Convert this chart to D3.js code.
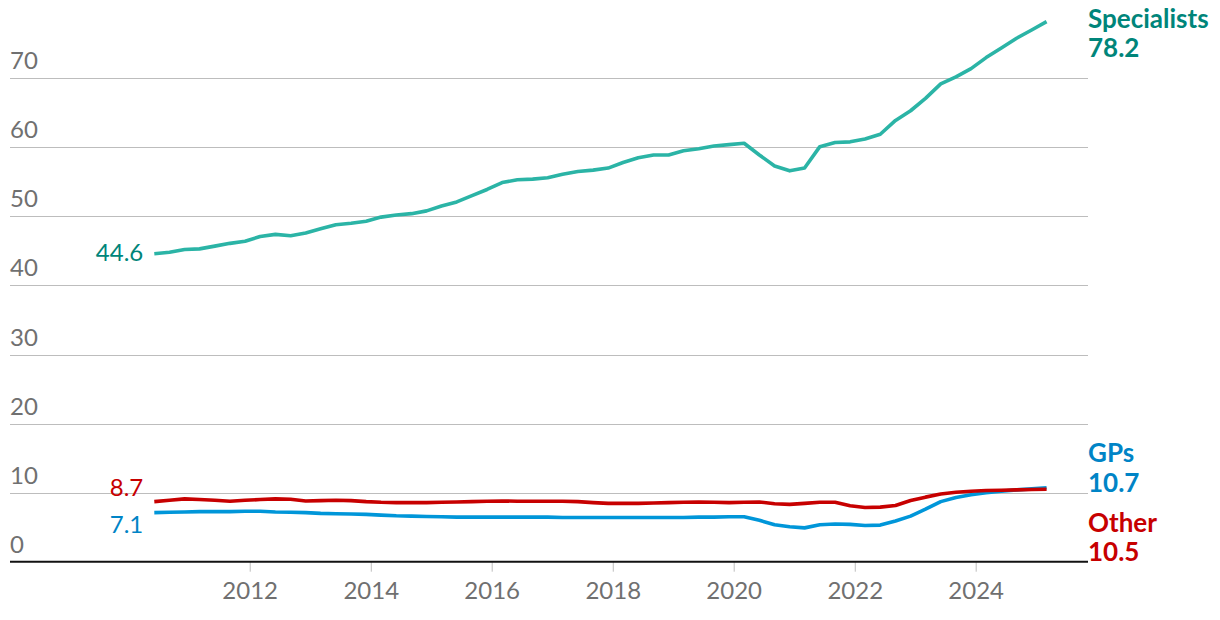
<!DOCTYPE html>
<html>
<head>
<meta charset="utf-8">
<script src="https://cdn.jsdelivr.net/npm/d3@7"></script>
<style>
  body { margin: 0; background: #fff; }
  text { font-family: Lato, "Noto Sans", sans-serif; }
</style>
</head>
<body>
<div id="app"></div>
<script>
// quarterly points, Jun 2010 .. Mar 2025
const quarters = [
  "2010-06", "2010-09", "2010-12", "2011-03", "2011-06", "2011-09", "2011-12", "2012-03",
  "2012-06", "2012-09", "2012-12", "2013-03", "2013-06", "2013-09", "2013-12", "2014-03",
  "2014-06", "2014-09", "2014-12", "2015-03", "2015-06", "2015-09", "2015-12", "2016-03",
  "2016-06", "2016-09", "2016-12", "2017-03", "2017-06", "2017-09", "2017-12", "2018-03",
  "2018-06", "2018-09", "2018-12", "2019-03", "2019-06", "2019-09", "2019-12", "2020-03",
  "2020-06", "2020-09", "2020-12", "2021-03", "2021-06", "2021-09", "2021-12", "2022-03",
  "2022-06", "2022-09", "2022-12", "2023-03", "2023-06", "2023-09", "2023-12", "2024-03",
  "2024-06", "2024-09", "2024-12", "2025-03"
];

const specialists = [
  44.6, 44.8, 45.2, 45.3, 45.7, 46.1, 46.4, 47.1, 47.4, 47.2,
  47.6, 48.2, 48.8, 49.0, 49.3, 49.9, 50.2, 50.4, 50.8, 51.5,
  52.1, 53.0, 53.9, 54.9, 55.3, 55.4, 55.6, 56.1, 56.5, 56.7,
  57.0, 57.8, 58.5, 58.9, 58.9, 59.5, 59.8, 60.2, 60.4, 60.6,
  58.9, 57.3, 56.6, 57.0, 60.1, 60.7, 60.8, 61.2, 61.9, 63.9,
  65.3, 67.1, 69.2, 70.2, 71.4, 73.0, 74.4, 75.8, 77.0, 78.2
];

const gps = [
  7.1, 7.15, 7.2, 7.25, 7.25, 7.25, 7.3, 7.3, 7.2, 7.15,
  7.1, 7.0, 6.95, 6.9, 6.85, 6.75, 6.65, 6.6, 6.55, 6.5,
  6.45, 6.45, 6.45, 6.45, 6.45, 6.45, 6.45, 6.4, 6.4, 6.4,
  6.4, 6.4, 6.4, 6.4, 6.4, 6.4, 6.45, 6.45, 6.5, 6.5,
  6.0, 5.35, 5.05, 4.9, 5.35, 5.45, 5.4, 5.25, 5.3, 5.9,
  6.6, 7.6, 8.7, 9.3, 9.7, 10.0, 10.2, 10.4, 10.55, 10.7
];

const other = [
  8.7, 8.9, 9.1, 9.0, 8.9, 8.75, 8.9, 9.0, 9.1, 9.05,
  8.8, 8.85, 8.9, 8.85, 8.7, 8.6, 8.55, 8.55, 8.55, 8.6,
  8.65, 8.7, 8.75, 8.8, 8.75, 8.75, 8.75, 8.75, 8.7, 8.55,
  8.45, 8.45, 8.45, 8.5, 8.55, 8.6, 8.65, 8.6, 8.55, 8.6,
  8.65, 8.4, 8.3, 8.45, 8.6, 8.6, 8.1, 7.85, 7.9, 8.15,
  8.85, 9.35, 9.8, 10.05, 10.2, 10.3, 10.35, 10.4, 10.45, 10.5
];

const yTicks = [0, 10, 20, 30, 40, 50, 60, 70];
const xTicks = [2012, 2014, 2016, 2018, 2020, 2022, 2024];

const parse = d3.utcParse("%Y-%m");
const dates = quarters.map(parse);

const svg = d3
  .create("svg")
  .attr("width", 1220)
  .attr("height", 620)
  .attr("viewBox", [0, 0, 1220, 620]);

const x = d3
  .scaleUtc()
  .domain([new Date(Date.UTC(2010, 0, 1)), new Date(Date.UTC(2025, 0, 1))])
  .range([129.3, 1036.8]);

const y = d3.scaleLinear().domain([0, 70]).range([561.7, 78.3]);

const left = 10;
const right = 1088;

// gridlines
svg
  .append("g")
  .selectAll("line")
  .data(yTicks.filter((d) => d > 0))
  .join("line")
  .attr("x1", left)
  .attr("x2", right)
  .attr("y1", (d) => Math.round(y(d)) + 0.5)
  .attr("y2", (d) => Math.round(y(d)) + 0.5)
  .attr("stroke", "#bdbdbd")
  .attr("stroke-width", 1);

svg
  .append("g")
  .selectAll("text")
  .data(yTicks)
  .join("text")
  .attr("x", left)
  .attr("y", (d) => y(d) - 9)
  .attr("fill", "#707070")
  .attr("font-size", "24px")
  .text((d) => d);

// x ticks
const xt = svg.append("g");
xt.selectAll("line")
  .data(xTicks)
  .join("line")
  .attr("x1", (d) => x(new Date(Date.UTC(d, 0, 1))))
  .attr("x2", (d) => x(new Date(Date.UTC(d, 0, 1))))
  .attr("y1", y(0))
  .attr("y2", y(0) + 10)
  .attr("stroke", "#bdbdbd");

xt.selectAll("text")
  .data(xTicks)
  .join("text")
  .attr("x", (d) => x(new Date(Date.UTC(d, 0, 1))))
  .attr("y", y(0) + 37)
  .attr("text-anchor", "middle")
  .attr("fill", "#707070")
  .attr("font-size", "24px")
  .text((d) => d);

// baseline
svg
  .append("line")
  .attr("x1", left)
  .attr("x2", right)
  .attr("y1", y(0))
  .attr("y2", y(0))
  .attr("stroke", "#121212")
  .attr("stroke-width", 2);

const line = d3
  .line()
  .x((d, i) => x(dates[i]))
  .y((d) => y(d));

const series = [
  { name: "GPs", values: gps, stroke: "#0096d9", label: "#0084c6", startDy: 20, nameDy: -26, valDy: 4 },
  { name: "Other", values: other, stroke: "#c70000", label: "#c70000", startDy: -6, nameDy: 43, valDy: 72 },
  { name: "Specialists", values: specialists, stroke: "#2bb4a6", label: "#00857a", startDy: 7, nameDy: 6, valDy: 35 },
];

series.forEach((s) => {
  svg
    .append("path")
    .attr("d", line(s.values))
    .attr("fill", "none")
    .attr("stroke", s.stroke)
    .attr("stroke-width", 3.6)
    .attr("stroke-linejoin", "round");

  const first = s.values[0];
  const last = s.values[s.values.length - 1];

  svg
    .append("text")
    .attr("x", x(dates[0]) - 11)
    .attr("y", y(first) + s.startDy)
    .attr("text-anchor", "end")
    .attr("fill", s.label)
    .attr("font-size", "24px")
    .text(first.toFixed(1));

  svg
    .append("text")
    .attr("x", right)
    .attr("y", y(last) + s.nameDy)
    .attr("fill", s.label)
    .attr("font-size", "26px")
    .attr("font-weight", 700)
    .text(s.name);

  svg
    .append("text")
    .attr("x", right)
    .attr("y", y(last) + s.valDy)
    .attr("fill", s.label)
    .attr("font-size", "26px")
    .attr("font-weight", 700)
    .text(last.toFixed(1));
});

document.getElementById("app").append(svg.node());
</script>
</body>
</html>
